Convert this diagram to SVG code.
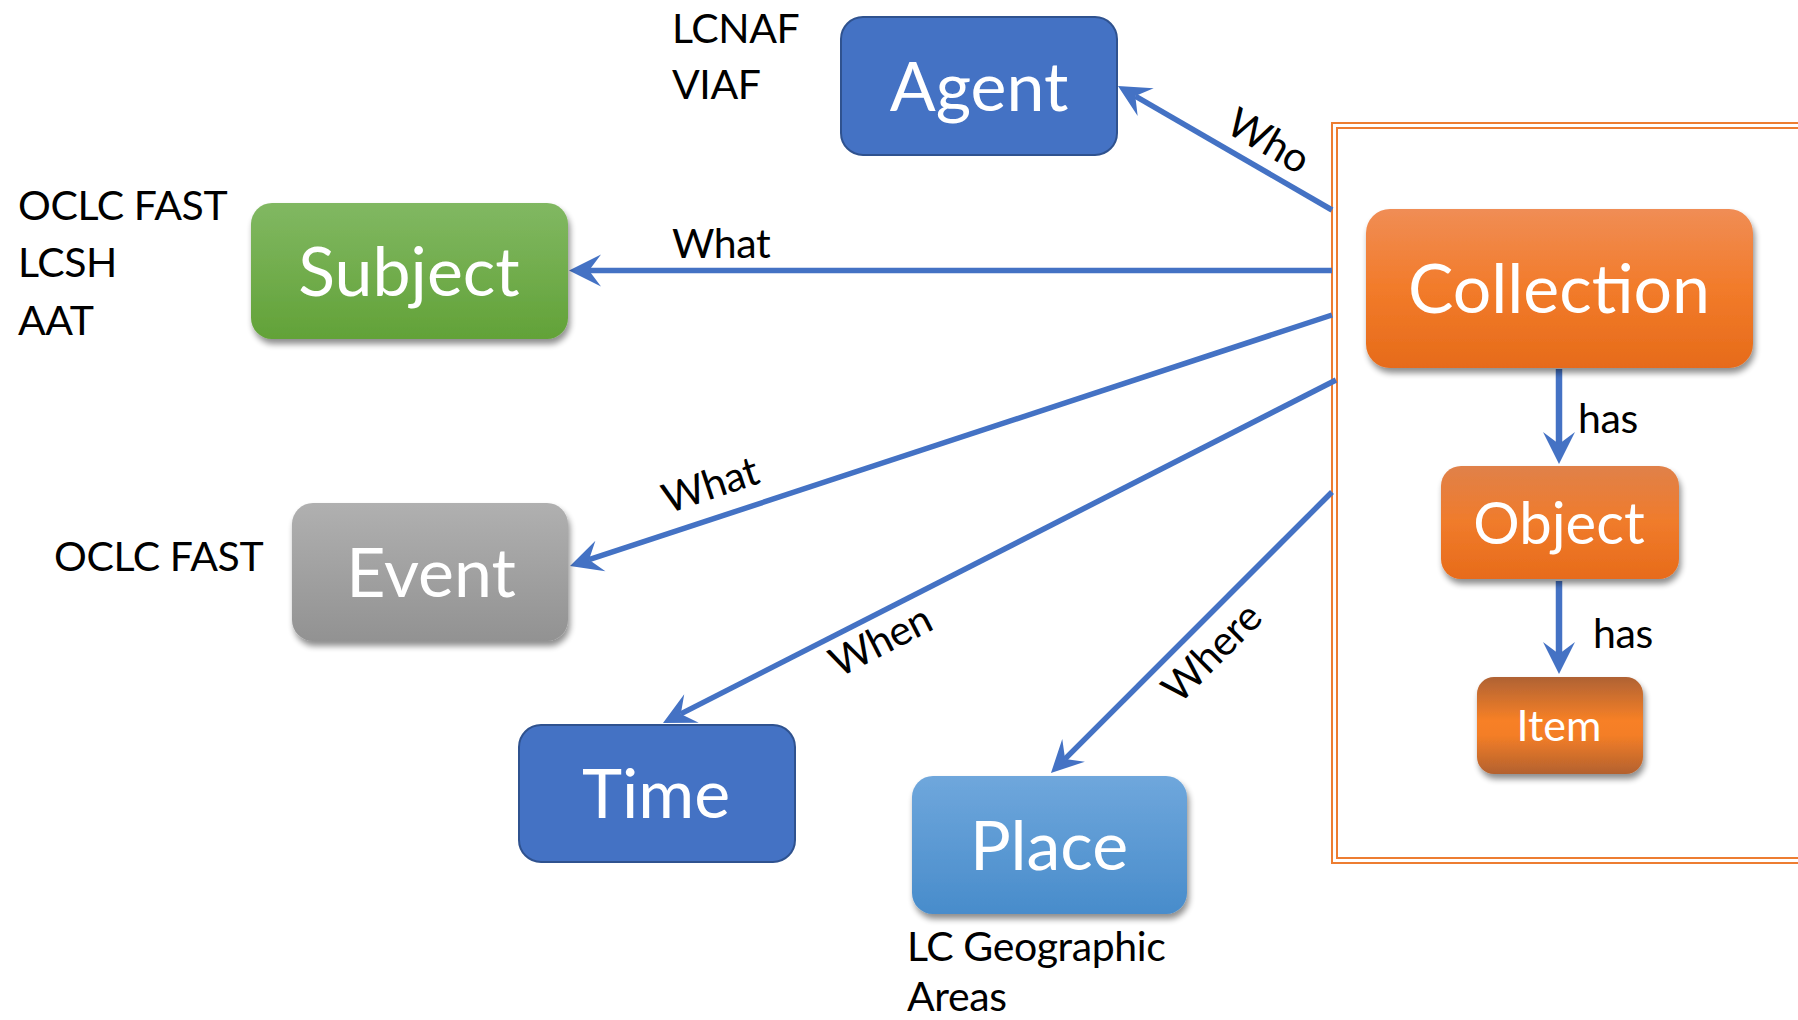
<svg xmlns="http://www.w3.org/2000/svg" width="1798" height="1020" viewBox="0 0 1798 1020">
  <style>
    .lbl { font-family: Lato, "Open Sans", "Liberation Sans", sans-serif; font-size: 41px; letter-spacing: -0.4px; fill: #000; }
    .big { font-family: Lato, "Open Sans", "Liberation Sans", sans-serif; font-size: 68px; fill: #fff; text-anchor: middle; }
    .edge { stroke: #4472C4; stroke-width: 5.5; fill: none; }
    .has { stroke: #4472C4; stroke-width: 6.5; fill: none; }
    .flat { fill: #4472C4; stroke: #2F528F; stroke-width: 2; }
    .frame { fill: none; stroke: #ED7D31; stroke-width: 2; }
  </style>
  <defs>
    <marker id="arrow" markerUnits="userSpaceOnUse" viewBox="-13 -17 34 34" refX="0" refY="0" markerWidth="34" markerHeight="34" orient="auto">
      <path d="M20,0 L-12,-16 L0,0 L-12,16 Z" fill="#4472C4"/>
    </marker>
    <filter id="shadow" x="-10%" y="-10%" width="120%" height="130%">
      <feGaussianBlur in="SourceAlpha" stdDeviation="3"/>
      <feOffset dx="2" dy="5" result="b"/>
      <feComponentTransfer><feFuncA type="linear" slope="0.45"/></feComponentTransfer>
      <feMerge><feMergeNode/><feMergeNode in="SourceGraphic"/></feMerge>
    </filter>
    <linearGradient id="gGreen" x1="0" y1="0" x2="0" y2="1">
      <stop offset="0" stop-color="#81B862"/>
      <stop offset="1" stop-color="#62A238"/>
    </linearGradient>
    <linearGradient id="gGray" x1="0" y1="0" x2="0" y2="1">
      <stop offset="0" stop-color="#B0B0B0"/>
      <stop offset="1" stop-color="#929292"/>
    </linearGradient>
    <linearGradient id="gSky" x1="0" y1="0" x2="0" y2="1">
      <stop offset="0" stop-color="#6FA7DC"/>
      <stop offset="1" stop-color="#488CCB"/>
    </linearGradient>
    <linearGradient id="gOrange" x1="0" y1="0" x2="0" y2="1">
      <stop offset="0" stop-color="#F08D55"/>
      <stop offset="0.5" stop-color="#F27B2A"/>
      <stop offset="1" stop-color="#E66B1A"/>
    </linearGradient>
    <linearGradient id="gObject" x1="0" y1="0" x2="0" y2="1">
      <stop offset="0" stop-color="#E08149"/>
      <stop offset="0.5" stop-color="#F07B2B"/>
      <stop offset="1" stop-color="#E76B1A"/>
    </linearGradient>
    <linearGradient id="gItem" x1="0" y1="0" x2="0" y2="1">
      <stop offset="0" stop-color="#AF6234"/>
      <stop offset="0.45" stop-color="#F78026"/>
      <stop offset="0.6" stop-color="#F47E27"/>
      <stop offset="1" stop-color="#B3612F"/>
    </linearGradient>
  </defs>

  <rect width="1798" height="1020" fill="#fff"/>

  <!-- collection boundary: double orange frame running off the right edge -->
  <g id="collection-frame">
    <rect class="frame" x="1332" y="123" width="480" height="740"/>
    <rect class="frame" x="1337" y="128" width="480" height="730"/>
  </g>

  <g id="connectors">
    <line class="edge" x1="1332" y1="210" x2="1135.3" y2="96.1" marker-end="url(#arrow)"/>
    <line class="edge" x1="1332" y1="270.5" x2="589" y2="270.5" marker-end="url(#arrow)"/>
    <line class="edge" x1="1332" y1="315" x2="589" y2="559.7" marker-end="url(#arrow)"/>
    <line class="edge" x1="1336" y1="380" x2="680.8" y2="713.9" marker-end="url(#arrow)"/>
    <line class="edge" x1="1332" y1="492" x2="1065.1" y2="758.9" marker-end="url(#arrow)"/>
    <line class="has" x1="1559" y1="369" x2="1559" y2="444" marker-end="url(#arrow)"/>
    <line class="has" x1="1559" y1="581" x2="1559" y2="654" marker-end="url(#arrow)"/>

    <text class="lbl" transform="translate(1269,140) rotate(30.3)" text-anchor="middle" y="15">Who</text>
    <text class="lbl" x="672" y="258">What</text>
    <text class="lbl" transform="translate(710,484) rotate(-18.3)" text-anchor="middle" y="15">What</text>
    <text class="lbl" transform="translate(880,640) rotate(-27)" text-anchor="middle" y="15">When</text>
    <text class="lbl" transform="translate(1211,652) rotate(-45)" text-anchor="middle" y="15">Where</text>
    <text class="lbl" x="1578" y="433">has</text>
    <text class="lbl" x="1593" y="648">has</text>
  </g>

  <g id="agent">
    <rect class="flat" x="841" y="17" width="276" height="138" rx="22"/>
    <text class="big" x="979" y="111">Agent</text>
    <text class="lbl" x="672" y="43">LCNAF</text>
    <text class="lbl" x="672" y="99">VIAF</text>
  </g>

  <g id="subject">
    <rect x="251" y="203" width="317" height="136" rx="21" fill="url(#gGreen)" filter="url(#shadow)"/>
    <text class="big" x="409" y="296">Subject</text>
    <text class="lbl" x="18" y="220">OCLC FAST</text>
    <text class="lbl" x="18" y="277">LCSH</text>
    <text class="lbl" x="18" y="335">AAT</text>
  </g>

  <g id="event">
    <rect x="292" y="503" width="276" height="138" rx="21" fill="url(#gGray)" filter="url(#shadow)"/>
    <text class="big" x="431" y="597">Event</text>
    <text class="lbl" x="54" y="571">OCLC FAST</text>
  </g>

  <g id="time">
    <rect class="flat" x="519" y="725" width="276" height="137" rx="22"/>
    <text class="big" x="656" y="818">Time</text>
  </g>

  <g id="place">
    <rect x="912" y="776" width="275" height="138" rx="21" fill="url(#gSky)" filter="url(#shadow)"/>
    <text class="big" x="1049" y="870">Place</text>
    <text class="lbl" x="907" y="961">LC Geographic</text>
    <text class="lbl" x="907" y="1011">Areas</text>
  </g>

  <g id="collection">
    <rect x="1366" y="209" width="387" height="159" rx="24" fill="url(#gOrange)" filter="url(#shadow)"/>
    <text class="big" x="1559" y="313">Collection</text>
  </g>

  <g id="object">
    <rect x="1441" y="466" width="238" height="113" rx="20" fill="url(#gObject)" filter="url(#shadow)"/>
    <text class="big" x="1559" y="544" style="font-size:58px">Object</text>
  </g>

  <g id="item">
    <rect x="1477" y="677" width="166" height="97" rx="17" fill="url(#gItem)" filter="url(#shadow)"/>
    <text class="big" x="1559" y="741" style="font-size:43px">Item</text>
  </g>
</svg>
